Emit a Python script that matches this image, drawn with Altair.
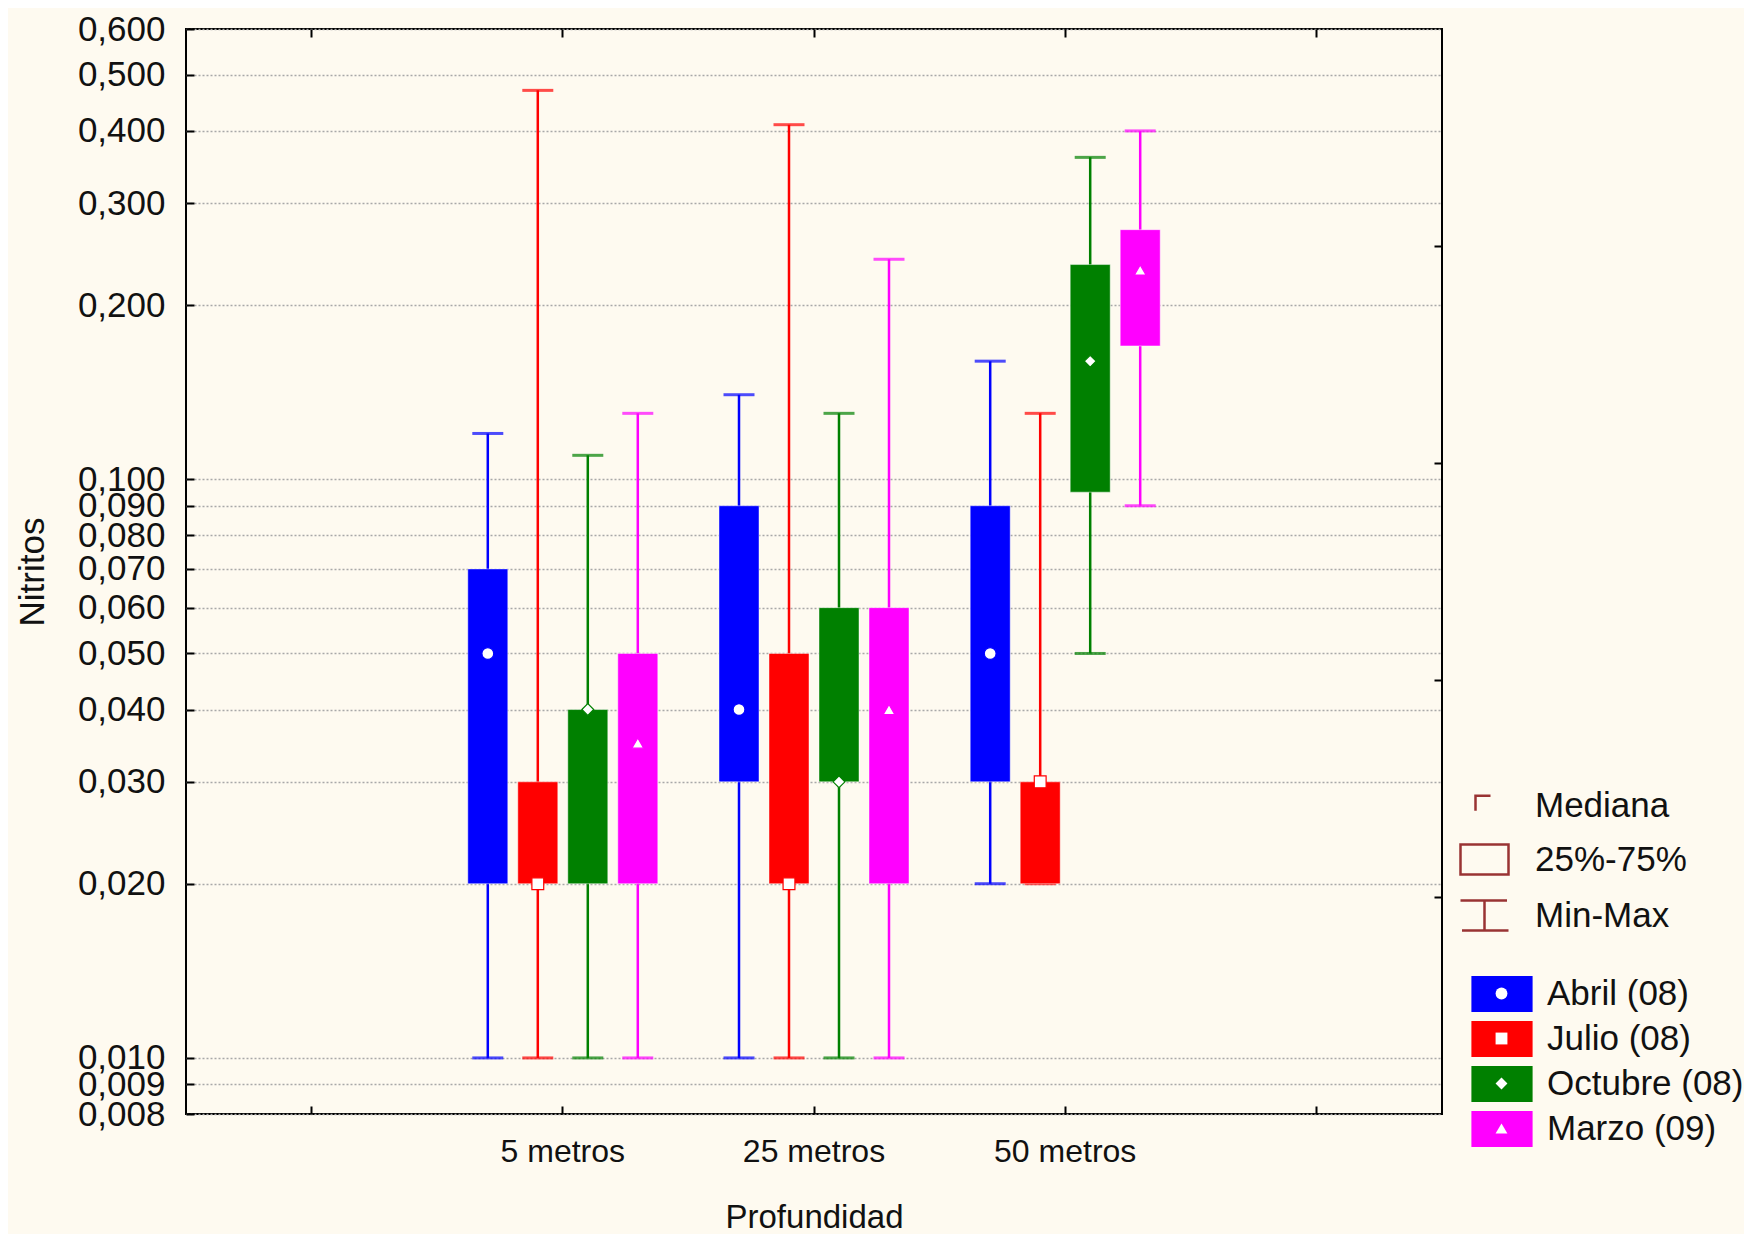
import math
import altair as alt
import pandas as pd

# ---------------- data ----------------
profundidades = ["5 metros", "25 metros", "50 metros"]
meses = ["Abril (08)", "Julio (08)", "Octubre (08)", "Marzo (09)"]
claves_marcador = ["m-Abril", "m-Julio", "m-Octubre", "m-Marzo"]
claves_linea = [0, 1, 2, 3]
colores = ["#0000ff", "#ff0000", "#008000", "#ff00ff"]
marcadores = ["circle", "square", "diamond", "triangle-up"]

# order: for each depth, Abril, Julio, Octubre, Marzo
minimo  = [0.010, 0.010, 0.010, 0.010,  0.010, 0.010, 0.010, 0.010,  0.020, 0.020, 0.050, 0.090]
q1      = [0.020, 0.020, 0.020, 0.020,  0.030, 0.020, 0.030, 0.020,  0.030, 0.020, 0.095, 0.170]
mediana = [0.050, 0.020, 0.040, 0.035,  0.040, 0.020, 0.030, 0.040,  0.050, 0.030, 0.160, 0.230]
q3      = [0.070, 0.030, 0.040, 0.050,  0.090, 0.050, 0.060, 0.060,  0.090, 0.030, 0.235, 0.270]
maximo  = [0.120, 0.470, 0.110, 0.130,  0.140, 0.410, 0.130, 0.240,  0.160, 0.130, 0.360, 0.400]

y_ticks = [0.008, 0.009, 0.010, 0.020, 0.030, 0.040, 0.050, 0.060, 0.070,
           0.080, 0.090, 0.100, 0.200, 0.300, 0.400, 0.500, 0.600]
y_domain = [0.008, 0.6]
estadisticos = ["Mediana", "25%-75%", "Min-Max"]

rows = []
i = 0
for p in profundidades:
    for j, m in enumerate(meses):
        rows.append({"Profundidad": p, "Mes": m, "Marcador": claves_marcador[j],
                     "Linea": claves_linea[j],
                     "Minimo": minimo[i], "Q1": q1[i], "Mediana": mediana[i],
                     "Q3": q3[i], "Maximo": maximo[i]})
        i += 1
df = pd.DataFrame(rows)

# ---------------- styling ----------------
FONT = "Liberation Sans"
x_domain = ["_izq"] + profundidades + ["_der"]
lo, hi = math.log10(y_domain[0]), math.log10(y_domain[1])
right_ticks = [10 ** (hi - f * (hi - lo)) for f in (0.2, 0.4, 0.6, 0.8)]

x_scale = alt.Scale(domain=x_domain, paddingInner=0, paddingOuter=0)
y_scale = alt.Scale(type="log", domain=y_domain, nice=False)
off_scale = alt.Scale(domain=meses, paddingInner=0.2, paddingOuter=0.612)
col_scale = alt.Scale(domain=meses, range=colores)
line_scale = alt.Scale(domain=claves_linea, range=colores)

axis_left = alt.Axis(orient="left", values=y_ticks,
                     labelExpr="replace(format(datum.value, '.3f'), '.', ',')",
                     title="Nitritos", offset=-8, tickSize=8, tickWidth=2, tickColor="#000",
                     domain=False, grid=True, gridColor="#a8a8a8", gridDash=[2, 2],
                     gridWidth=1.5, labelPadding=21, labelFont=FONT, labelFontSize=35,
                     labelColor="#111", labelOverlap=False, labelFlush=False,
                     titleFont=FONT, titleFontSize=35, titleFontWeight="normal",
                     titleColor="#111", titlePadding=27)
axis_bottom = alt.Axis(orient="bottom", title="Profundidad",
                       labelExpr="indexof(datum.label, '_') == 0 ? '' : datum.label",
                       offset=-8, tickSize=8, tickWidth=2, tickColor="#000", domain=False,
                       grid=False, labelPadding=22, labelAngle=0, labelFont=FONT,
                       labelFontSize=32, labelColor="#111", titleFont=FONT,
                       titleFontSize=33, titleFontWeight="normal", titleColor="#111",
                       titlePadding=34)
axis_top = alt.Axis(orient="top", labels=False, title=None, offset=-8, tickSize=8,
                    tickWidth=2, tickColor="#000", domain=False, grid=False)
axis_right = alt.Axis(orient="right", values=right_ticks, labels=False, title=None,
                      offset=-8, tickSize=8, tickWidth=2, tickColor="#000",
                      domain=False, grid=False)

base = alt.Chart(df)
xoff = alt.XOffset("Mes:N", scale=off_scale)

whiskers = base.mark_rule(strokeWidth=2.5).encode(
    x=alt.X("Profundidad:N", scale=x_scale, axis=axis_top),
    xOffset=xoff,
    y=alt.Y("Minimo:Q", scale=y_scale, axis=axis_right),
    y2="Maximo:Q",
    stroke=alt.Stroke("Linea:N", scale=line_scale, legend=None),
)

cap_max = base.mark_tick(thickness=3, size=31).encode(
    x=alt.X("Profundidad:N", scale=x_scale, axis=None),
    xOffset=xoff,
    y=alt.Y("Maximo:Q", scale=y_scale, axis=None),
    fill=alt.Fill("Linea:N", scale=line_scale, legend=None),
)
cap_min = base.mark_tick(thickness=3, size=31).encode(
    x=alt.X("Profundidad:N", scale=x_scale, axis=None),
    xOffset=xoff,
    y=alt.Y("Minimo:Q", scale=y_scale, axis=None),
    fill=alt.Fill("Linea:N", scale=line_scale, legend=None),
)

LEG_Y = 947
boxes = base.mark_bar(stroke="white", strokeOpacity=0.45, strokeWidth=1).encode(
    x=alt.X("Profundidad:N", scale=x_scale, axis=axis_bottom),
    xOffset=xoff,
    y=alt.Y("Q1:Q", scale=y_scale, axis=axis_left),
    y2="Q3:Q",
    color=alt.Color("Mes:N", scale=col_scale, legend=alt.Legend(
        title=None, orient="none", legendX=1298, legendY=LEG_Y,
        symbolType="M-1.7,-1H1.7V1H-1.7Z", symbolSize=1296, symbolStrokeWidth=0,
        symbolOpacity=1, labelFont=FONT, labelFontSize=35, labelColor="#111",
        labelOffset=27, rowPadding=9, labelLimit=400)),
)

medians = base.mark_point(filled=True, fill="white", size=140, strokeWidth=1.2, opacity=1).encode(
    x=alt.X("Profundidad:N", scale=x_scale, axis=None),
    xOffset=xoff,
    y=alt.Y("Mediana:Q", scale=y_scale, axis=None),
    stroke=alt.Stroke("Linea:N", scale=line_scale, legend=None),
    shape=alt.Shape("Marcador:N", scale=alt.Scale(domain=claves_marcador, range=marcadores),
                    legend=alt.Legend(
                        title=None, orient="none", legendX=1298, legendY=LEG_Y,
                        symbolSize=140, symbolFillColor="white", symbolStrokeColor="white",
                        symbolStrokeWidth=0, symbolOpacity=1, labelFont=FONT,
                        labelFontSize=35, labelExpr="''", labelOffset=27,
                        rowPadding=9, labelLimit=400)),
)

stat_paths = ["M-0.6,0.35V-0.65H0.4",
              "M-1.6,-1H1.6V1H-1.6Z",
              "M-1.6,-1H1.5M0,-1V1M-1.5,1H1.6"]
stat_legend = alt.Chart(pd.DataFrame({"Estadistico": estadisticos})).mark_point(
    opacity=0, filled=False).encode(
    shape=alt.Shape("Estadistico:N", scale=alt.Scale(domain=estadisticos, range=stat_paths),
                    legend=alt.Legend(
                        title=None, orient="none", legendX=1281, legendY=759,
                        symbolSize=900, symbolStrokeColor="#993333",
                        symbolFillColor="white", symbolStrokeWidth=2.5, symbolOpacity=1,
                        labelFont=FONT, labelFontSize=35, labelColor="#111",
                        labelOffset=33, rowPadding=15, labelLimit=400)),
)

chart = alt.layer(whiskers, cap_max, cap_min, boxes, medians, stat_legend).resolve_scale(
    shape="independent"
).resolve_axis(
    x="independent", y="independent"
).properties(
    width=1256, height=1085,
    background="#fefaf0",
    padding={"left": 7, "top": 4, "right": 0, "bottom": 0},
).configure_view(
    stroke="#000", strokeWidth=2, fill="white"
)

chart.save("out.html", embed_options={"renderer": "svg", "actions": False})
